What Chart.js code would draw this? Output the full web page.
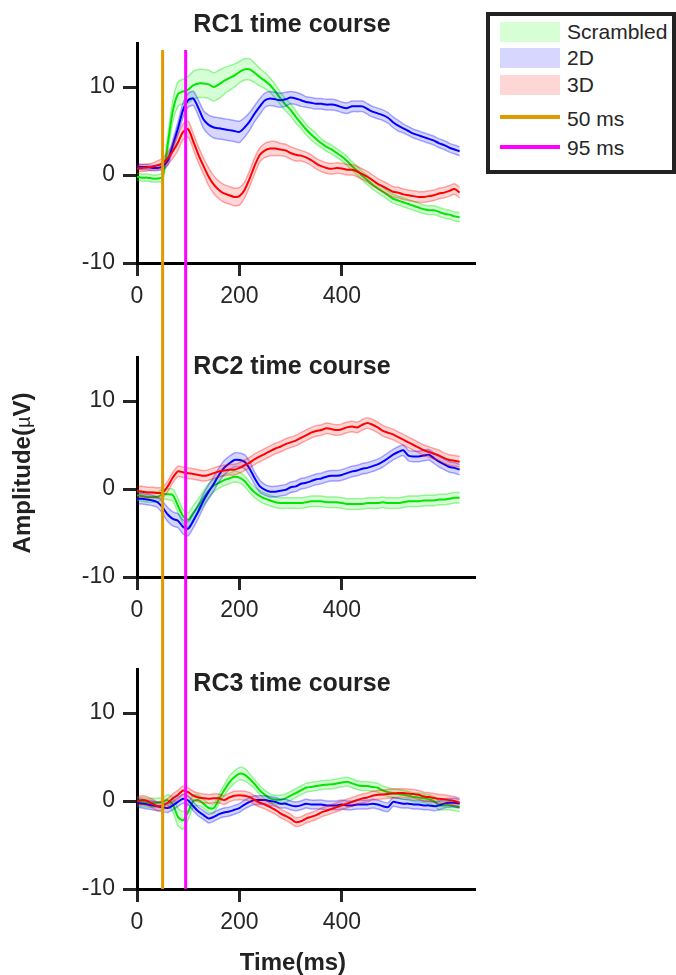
<!DOCTYPE html>
<html>
<head>
<meta charset="utf-8">
<script src="https://cdn.jsdelivr.net/npm/chart.js@4.4.1/dist/chart.umd.min.js"></script>
<style>
  html, body { margin: 0; padding: 0; background: #fff; }
  #page { position: relative; width: 676px; height: 975px; overflow: hidden;
          font-family: "Liberation Sans", Arial, Helvetica, sans-serif; color: #262626; }
  #page canvas { position: absolute; left: 0; }
  .title { position: absolute; left: 92px; width: 400px; text-align: center;
           font-weight: bold; font-size: 25px; line-height: 24px; color: #222; white-space: nowrap; }
  #xlabel { position: absolute; left: 143px; width: 300px; top: 950px; text-align: center;
            font-weight: bold; font-size: 24px; line-height: 24px; color: #222; }
  #ylabel { position: absolute; left: -78px; top: 461px; width: 200px; height: 24px; text-align: center;
            font-weight: bold; font-size: 24px; line-height: 24px; color: #222; transform: rotate(-90deg); }
  #ylabel .mu { font-weight: normal; font-size: 20px; }
  #legend { position: absolute; left: 486px; top: 12px; width: 190px; height: 162px;
            box-sizing: border-box; border: 4px solid #222; background: #fff; }
  #legend .sw { position: absolute; left: 10px; width: 60px; }
  #legend .txt { position: absolute; left: 77px; font-size: 21px; line-height: 21px; white-space: nowrap; }
</style>
</head>
<body>
<div id="page">
  <canvas id="rc1" width="676" height="320" style="top:0px"></canvas>
  <canvas id="rc2" width="676" height="320" style="top:320px"></canvas>
  <canvas id="rc3" width="676" height="335" style="top:640px"></canvas>
  <div class="title" style="top:11px">RC1 time course</div>
  <div class="title" style="top:353px">RC2 time course</div>
  <div class="title" style="top:670px">RC3 time course</div>
  <div id="xlabel">Time(ms)</div>
  <div id="ylabel">Amplitude(<span class="mu">µ</span>V)</div>
  <div id="legend"></div>
</div>
<script>
// time axis, ms
const TIME_MS = [0,10,20,30,40,50,60,70,80,90,100,110,120,130,140,150,160,170,180,190,200,210,220,230,240,250,260,270,280,290,300,310,320,330,340,350,360,370,380,390,400,410,420,430,440,450,460,470,480,490,500,510,520,530,540,550,560,570,580,590,600,610,620,630];
const X_TICKS = [0, 200, 400];
const Y_TICKS = [-10, 0, 10];
const SERIES = ['Scrambled', '2D', '3D'];
const MARKERS_MS = [50, 95];
const MARKER_LABELS = ['50 ms', '95 ms'];

// RC1 means / sem
const RC1_SCR = [-0.2,-0.3,-0.3,-0.4,-0.4,-0.2,3.5,7.3, 9.2,9.5,9.7,10.2,10.4,10.4,10.3,10.0, 10.3,10.7,11.0,11.3,11.7,12.0,12.0,11.6, 11.1,10.7,10.2,9.5,8.7,8.0,7.4,6.6, 5.9,5.2,4.6,4.1,3.6,3.2,2.9,2.5, 2.1,1.6,1.0,0.5,-0.1,-0.6,-1.1,-1.5, -1.9,-2.3,-2.7,-2.9,-3.1,-3.3,-3.5,-3.7, -3.9,-4.0,-4.0,-4.2,-4.4,-4.5,-4.7,-4.8];
const RC1_2D  = [1.0,0.9,0.9,0.8,0.8,1.0,1.6,3.4, 5.3,7.4,8.5,8.7,7.6,6.3,5.7,5.4, 5.3,5.2,5.1,5.0,4.9,5.4,6.1,7.0, 7.8,8.5,8.7,8.6,8.5,8.6,8.8,8.7, 8.5,8.3,8.2,8.1,8.1,8.0,8.0,7.9, 7.7,7.6,7.8,7.8,7.8,7.5,7.2,7.0, 6.8,6.5,6.0,5.6,5.3,5.0,4.7,4.5, 4.3,4.1,3.9,3.6,3.4,3.1,2.9,2.7];
const RC1_3D  = [0.75,0.8,0.85,0.95,1.1,1.3,1.9,2.7, 3.7,4.9,5.2,3.8,2.3,1.0,-0.2,-1.1, -1.7,-2.1,-2.3,-2.5,-2.4,-1.7,-0.4,1.1, 2.3,2.8,3.0,3.0,2.9,2.8,2.5,2.3, 2.2,2.0,1.7,1.3,1.0,0.8,0.7,0.8, 0.75,0.6,0.6,0.4,0.1,-0.2,-0.6,-1.0, -1.3,-1.6,-1.9,-2.0,-2.2,-2.3,-2.4,-2.5, -2.5,-2.4,-2.3,-2.1,-2.0,-1.8,-1.6,-2.0];
const RC1_SCR_SEM = [0.4,0.4,0.4,0.4,0.4,0.5,0.9,1.2, 1.4,1.4,1.5,1.6,1.6,1.6,1.6,1.6, 1.6,1.5,1.4,1.3,1.2,1.2,1.2,1.1, 1.0,0.9,0.8,0.8,0.7,0.7,0.7,0.7, 0.6,0.6,0.6,0.6,0.5,0.5,0.5,0.5, 0.5,0.5,0.5,0.5,0.5,0.5,0.5,0.5, 0.5,0.5,0.5,0.5,0.5,0.5,0.5,0.5, 0.5,0.5,0.5,0.5,0.5,0.5,0.5,0.5];
const RC1_2D_SEM  = [0.3,0.3,0.3,0.3,0.3,0.4,0.5,0.6, 0.7,0.8,0.8,0.8,0.9,1.0,1.1,1.2, 1.2,1.2,1.2,1.2,1.2,1.1,1.0,0.9, 0.9,0.8,0.8,0.8,0.8,0.8,0.7,0.7, 0.7,0.6,0.6,0.6,0.6,0.6,0.6,0.6, 0.6,0.6,0.6,0.6,0.6,0.6,0.6,0.6, 0.6,0.6,0.6,0.6,0.5,0.5,0.5,0.5, 0.5,0.5,0.5,0.5,0.5,0.5,0.5,0.5];
const RC1_3D_SEM  = [0.4,0.4,0.4,0.4,0.5,0.6,0.7,0.8, 0.9,0.9,0.9,0.9,0.9,0.9,1.0,1.0, 1.0,1.0,1.0,1.0,1.0,0.9,0.9,0.9, 0.8,0.8,0.8,0.8,0.7,0.7,0.7,0.7, 0.6,0.6,0.6,0.6,0.6,0.6,0.6,0.6, 0.6,0.6,0.6,0.6,0.6,0.6,0.6,0.6, 0.6,0.6,0.6,0.6,0.6,0.6,0.6,0.6, 0.6,0.6,0.6,0.6,0.6,0.6,0.6,0.6];

// RC2 means / sem
const RC2_SCR = [-0.7,-0.8,-0.9,-0.9,-0.9,-0.6,-0.6,-0.7, -1.9,-3.1,-3.5,-2.7,-1.9,-1.0,-0.2,0.4, 0.7,1.0,1.2,1.4,1.3,0.9,0.2,-0.4, -0.8,-1.1,-1.3,-1.5,-1.6,-1.6,-1.6,-1.6, -1.6,-1.5,-1.4,-1.4,-1.4,-1.5,-1.5,-1.5, -1.6,-1.7,-1.7,-1.7,-1.7,-1.6,-1.6,-1.6, -1.5,-1.6,-1.6,-1.6,-1.5,-1.4,-1.4,-1.4, -1.3,-1.3,-1.3,-1.2,-1.2,-1.1,-1.0,-1.0];
const RC2_2D  = [-1.1,-1.1,-1.2,-1.3,-1.5,-2.1,-2.9,-3.4, -3.6,-4.3,-4.5,-3.6,-2.5,-1.3,-0.3,0.6, 1.6,2.4,2.9,3.3,3.3,3.1,2.3,1.2, 0.3,-0.1,-0.3,-0.3,-0.2,-0.1,0.2,0.3, 0.6,0.7,0.9,1.1,1.2,1.4,1.5,1.5, 1.6,1.8,2.0,2.1,2.3,2.4,2.6,2.8, 3.1,3.5,3.9,4.2,4.4,3.8,3.7,3.7, 3.8,3.9,3.5,3.1,2.8,2.5,2.4,2.2];
const RC2_3D  = [-0.3,-0.3,-0.4,-0.4,-0.45,-0.4,0.3,1.3, 2.0,1.9,1.8,1.7,1.6,1.5,1.6,1.8, 2.0,2.1,2.2,2.2,2.4,2.7,3.0,3.4, 3.7,4.0,4.3,4.6,4.8,5.1,5.3,5.5, 5.8,6.1,6.4,6.6,6.7,6.9,6.8,6.7, 6.8,7.0,7.1,7.0,7.3,7.5,7.3,7.0, 6.6,6.4,6.2,5.9,5.6,5.3,5.0,4.7, 4.4,4.2,4.0,3.8,3.5,3.3,3.2,3.1];
const RC2_SCR_SEM = [0.6,0.6,0.6,0.6,0.6,0.6,0.6,0.7, 0.8,0.8,0.8,0.8,0.8,0.8,0.8,0.7, 0.6,0.6,0.6,0.6,0.6,0.6,0.6,0.6, 0.6,0.6,0.6,0.6,0.6,0.6,0.6,0.6, 0.6,0.6,0.6,0.6,0.6,0.6,0.6,0.6, 0.6,0.6,0.6,0.6,0.6,0.6,0.6,0.6, 0.6,0.6,0.6,0.6,0.6,0.6,0.6,0.6, 0.6,0.6,0.6,0.6,0.6,0.6,0.6,0.6];
const RC2_2D_SEM  = [0.6,0.6,0.6,0.6,0.6,0.7,0.8,0.8, 0.8,0.8,0.8,0.8,0.8,0.8,0.8,0.8, 0.8,0.8,0.8,0.8,0.8,0.8,0.8,0.7, 0.7,0.6,0.6,0.6,0.6,0.6,0.6,0.6, 0.6,0.6,0.6,0.6,0.6,0.6,0.6,0.6, 0.6,0.6,0.6,0.6,0.6,0.6,0.6,0.6, 0.6,0.6,0.6,0.6,0.6,0.6,0.6,0.6, 0.6,0.6,0.6,0.6,0.6,0.6,0.6,0.6];
const RC2_3D_SEM  = [0.6,0.6,0.6,0.6,0.6,0.6,0.6,0.6, 0.6,0.6,0.6,0.6,0.6,0.6,0.6,0.6, 0.6,0.6,0.6,0.6,0.6,0.6,0.6,0.6, 0.6,0.6,0.6,0.6,0.6,0.6,0.6,0.6, 0.6,0.6,0.6,0.6,0.6,0.6,0.6,0.6, 0.6,0.6,0.6,0.6,0.6,0.6,0.6,0.6, 0.6,0.6,0.6,0.6,0.6,0.6,0.6,0.6, 0.6,0.6,0.6,0.6,0.6,0.6,0.6,0.6];

// RC3 means / sem
const RC3_SCR = [-0.1,-0.1,-0.2,-0.2,-0.2,-0.1,0.1,-0.4, -1.8,-2.2,-1.2,0.0,0.1,-0.3,-0.8,-0.8, 0.2,1.2,2.1,2.7,3.1,3.0,2.5,1.9, 1.2,0.7,0.3,0.15,0.15,0.3,0.6,0.9, 1.2,1.5,1.6,1.7,1.8,1.85,1.9,2.0, 2.1,2.2,2.0,1.8,1.7,1.7,1.6,1.5, 1.2,1.0,0.9,0.8,0.7,0.6,0.45,0.4, 0.3,0.2,0.0,-0.5,-0.5,-0.5,-0.6,-0.7];
const RC3_2D  = [-0.2,-0.3,-0.4,-0.5,-0.6,-0.7,-0.8,-0.5, -0.1,0.25,0.05,-0.6,-1.2,-1.6,-2.0,-1.8, -1.5,-1.3,-1.2,-1.0,-0.8,-0.4,-0.1,0.1, 0.1,0.1,0.0,-0.1,-0.3,-0.3,-0.5,-0.6, -0.5,-0.3,-0.4,-0.4,-0.4,-0.5,-0.5,-0.5, -0.4,-0.5,-0.5,-0.4,-0.4,-0.4,-0.3,-0.4, -0.6,-0.7,-0.1,-0.2,-0.3,-0.3,-0.4,-0.4, -0.5,-0.5,-0.6,-0.5,-0.3,-0.2,-0.2,-0.3];
const RC3_3D  = [0.0,0.1,0.0,-0.3,-0.6,-0.5,-0.2,0.3, 0.7,1.2,1.0,0.6,0.4,0.3,0.25,0.3, 0.3,0.1,0.4,0.6,0.65,0.6,0.45,0.1, -0.2,-0.4,-0.7,-1.0,-1.4,-1.7,-2.0,-2.4, -2.3,-2.0,-1.8,-1.6,-1.3,-1.1,-0.9,-0.7, -0.5,-0.3,-0.1,0.1,0.3,0.4,0.6,0.7, 0.75,0.8,0.85,0.9,0.9,0.85,0.8,0.7, 0.5,0.45,0.35,0.25,0.2,0.1,0.0,-0.2];
const RC3_SCR_SEM = [0.5,0.5,0.5,0.5,0.5,0.5,0.6,0.8, 1.0,1.0,0.9,0.7,0.6,0.5,0.5,0.5, 0.5,0.6,0.7,0.7,0.7,0.7,0.6,0.5, 0.5,0.5,0.5,0.5,0.5,0.5,0.5,0.5, 0.5,0.5,0.5,0.5,0.5,0.5,0.5,0.5, 0.5,0.5,0.5,0.5,0.5,0.5,0.5,0.5, 0.5,0.5,0.5,0.5,0.5,0.5,0.5,0.5, 0.5,0.5,0.5,0.5,0.5,0.5,0.5,0.5];
const RC3_2D_SEM  = [0.5,0.5,0.5,0.5,0.5,0.5,0.5,0.5, 0.5,0.5,0.5,0.5,0.5,0.5,0.5,0.5, 0.5,0.5,0.5,0.5,0.5,0.5,0.5,0.5, 0.5,0.5,0.5,0.5,0.5,0.5,0.5,0.5, 0.5,0.5,0.5,0.5,0.5,0.5,0.5,0.5, 0.5,0.5,0.5,0.5,0.5,0.5,0.5,0.5, 0.5,0.5,0.5,0.5,0.5,0.5,0.5,0.5, 0.5,0.5,0.5,0.5,0.5,0.5,0.5,0.5];
const RC3_3D_SEM  = [0.5,0.5,0.5,0.5,0.5,0.5,0.5,0.5, 0.5,0.5,0.5,0.5,0.5,0.5,0.5,0.5, 0.5,0.5,0.5,0.5,0.5,0.5,0.5,0.5, 0.5,0.5,0.5,0.5,0.5,0.5,0.5,0.5, 0.5,0.5,0.5,0.5,0.5,0.5,0.5,0.5, 0.5,0.5,0.5,0.5,0.5,0.5,0.5,0.5, 0.5,0.5,0.5,0.5,0.5,0.5,0.5,0.5, 0.5,0.5,0.5,0.5,0.5,0.5,0.5,0.5];

const LINE_COLORS = ['#00e600', '#0000ff', '#ff0000'];
const EDGE_COLORS = ['rgba(0,230,0,0.38)', 'rgba(0,0,255,0.33)', 'rgba(255,0,0,0.33)'];
const FILL_COLORS = ['rgba(0,255,0,0.16)', 'rgba(0,0,255,0.16)', 'rgba(255,0,0,0.16)'];
const MARKER_COLORS = ['#e09a00', '#ff00ff'];

const TICK_FONT = { family: '"Liberation Sans", Arial, sans-serif', size: 23 };
const PLOT_H = 220;

// vertical marker lines, run past the plot so the three panels join up
const markerPlugin = {
  id: 'markers',
  afterDraw(chart, args, opts) {
    const { ctx, chartArea } = chart;
    const x = chart.scales.x;
    const y0 = opts.up ? 0 : chartArea.top + 7;
    const y1 = opts.down ? chart.height : chartArea.bottom;
    ctx.save();
    ctx.lineWidth = 3;
    MARKERS_MS.forEach((ms, i) => {
      const px = x.getPixelForValue(ms);
      ctx.strokeStyle = MARKER_COLORS[i];
      ctx.beginPath();
      ctx.moveTo(px, y0);
      ctx.lineTo(px, y1);
      ctx.stroke();
    });
    ctx.restore();
  }
};

function makeDatasets(means, sems) {
  const out = [];
  means.forEach((m, s) => {
    const se = sems[s];
    out.push({
      data: TIME_MS.map((t, k) => ({ x: t, y: m[k] + se[k] })),
      borderColor: EDGE_COLORS[s], borderWidth: 1.5, fill: false
    });
    out.push({
      data: TIME_MS.map((t, k) => ({ x: t, y: m[k] - se[k] })),
      borderColor: EDGE_COLORS[s], borderWidth: 1.5, fill: '-1', backgroundColor: FILL_COLORS[s]
    });
    out.push({
      data: TIME_MS.map((t, k) => ({ x: t, y: m[k] })),
      borderColor: LINE_COLORS[s], borderWidth: 2, fill: false
    });
  });
  // first series at the bottom, last on top
  out.forEach((d, i) => { d.order = out.length - i; d.pointRadius = 0; d.tension = 0.25; });
  return out;
}

function makePanel(id, means, sems, padTop, up, down) {
  const canvas = document.getElementById(id);
  const h = canvas.height;
  new Chart(canvas, {
    type: 'line',
    data: { datasets: makeDatasets(means, sems) },
    options: {
      responsive: false,
      animation: false,
      devicePixelRatio: 1,
      layout: { padding: { top: padTop, left: 0, right: 201, bottom: 0 } },
      plugins: {
        legend: { display: false },
        tooltip: { enabled: false },
        markers: { up: up, down: down }
      },
      scales: {
        x: {
          type: 'linear', min: 0, max: 660,
          afterBuildTicks: s => { s.ticks = X_TICKS.map(v => ({ value: v })); },
          afterFit: s => { s.height = h - padTop - PLOT_H; },
          border: { color: '#000', width: 3 },
          grid: { drawOnChartArea: false, drawTicks: true, tickLength: 13, tickWidth: 3, tickColor: '#262626' },
          ticks: { font: TICK_FONT, color: '#262626', padding: 7, maxRotation: 0 }
        },
        y: {
          min: -10, max: 15,
          afterBuildTicks: s => { s.ticks = Y_TICKS.map(v => ({ value: v })); },
          afterFit: s => { s.width = 137; },
          border: { color: '#000', width: 3 },
          grid: { drawOnChartArea: false, drawTicks: true, tickLength: 14, tickWidth: 3, tickColor: '#262626' },
          ticks: { font: TICK_FONT, color: '#262626', padding: 8 }
        }
      }
    },
    plugins: [markerPlugin]
  });
}

makePanel('rc1', [RC1_SCR, RC1_2D, RC1_3D], [RC1_SCR_SEM, RC1_2D_SEM, RC1_3D_SEM], 43, false, true);
makePanel('rc2', [RC2_SCR, RC2_2D, RC2_3D], [RC2_SCR_SEM, RC2_2D_SEM, RC2_3D_SEM], 37, true, true);
makePanel('rc3', [RC3_SCR, RC3_2D, RC3_3D], [RC3_SCR_SEM, RC3_2D_SEM, RC3_3D_SEM], 29, true, false);

// legend box
const legend = document.getElementById('legend');
const swatchTops = [6, 32, 59];
const textTops = [5, 31, 58];
SERIES.forEach((name, i) => {
  legend.insertAdjacentHTML('beforeend',
    `<div class="sw" style="top:${swatchTops[i]}px;height:20px;background:${FILL_COLORS[i]}"></div>` +
    `<div class="txt" style="top:${textTops[i]}px">${name}</div>`);
});
const lineTops = [99, 129];
const lineTextTops = [92, 121];
MARKER_LABELS.forEach((name, i) => {
  legend.insertAdjacentHTML('beforeend',
    `<div class="sw" style="top:${lineTops[i]}px;height:4px;background:${MARKER_COLORS[i]}"></div>` +
    `<div class="txt" style="top:${lineTextTops[i]}px">${name}</div>`);
});
</script>
</body>
</html>
